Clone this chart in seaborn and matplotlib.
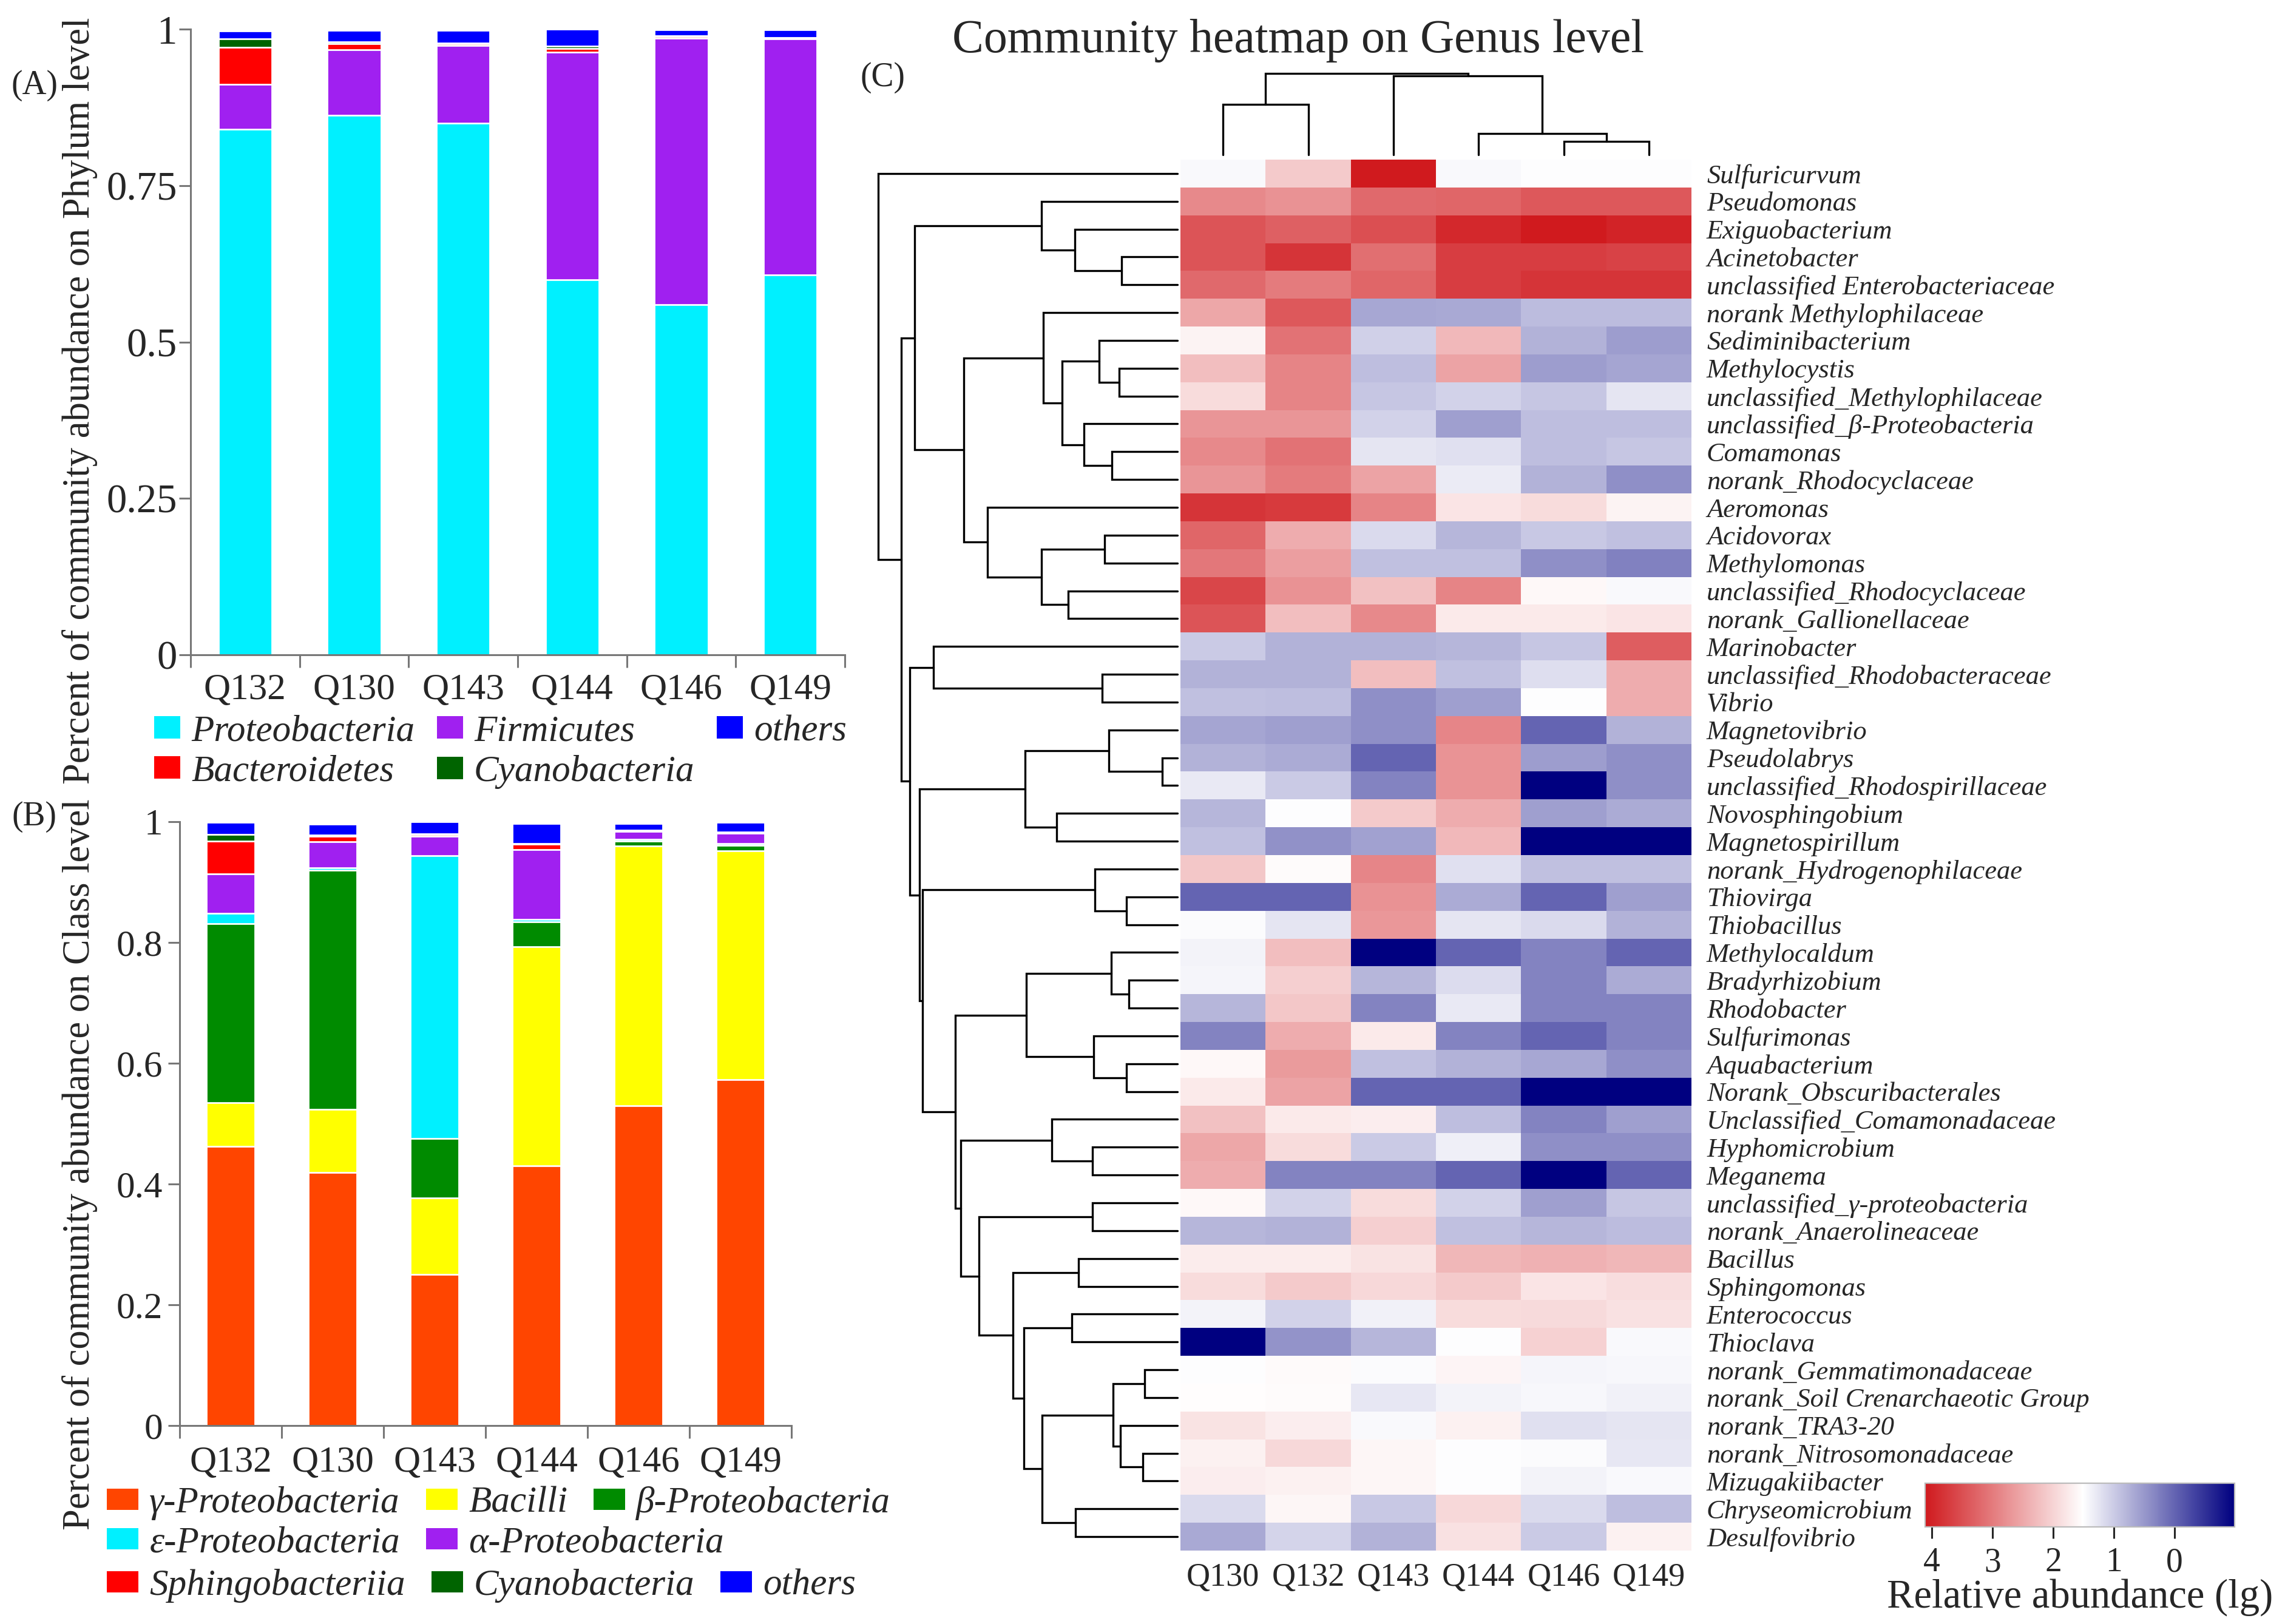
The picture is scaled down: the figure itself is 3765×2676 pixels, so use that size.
import numpy as np  # arrays
import pandas as pd  # tables
import matplotlib.pyplot as plt  # figure layout
import seaborn as sns  # bars and heatmap
from matplotlib.colors import LinearSegmentedColormap
from matplotlib.patches import Patch

sns.set_style('white')
plt.rcParams['font.family'] = ['Liberation Serif', 'DejaVu Serif']

# ---------------- DATA ----------------
bar_samples = ['Q132', 'Q130', 'Q143', 'Q144', 'Q146', 'Q149']

# (A) phylum level
phylum_names = ['Proteobacteria', 'Firmicutes', 'Bacteroidetes', 'Cyanobacteria', 'others']
phylum_colors = ['#00F0FF', '#A020F0', '#FF0000', '#006400', '#0000FF']
proteobacteria = [0.840, 0.862, 0.850, 0.599, 0.560, 0.607]
firmicutes = [0.072, 0.105, 0.124, 0.364, 0.425, 0.377]
bacteroidetes = [0.059, 0.010, 0.003, 0.006, 0.003, 0.001]
cyanobacteria_p = [0.013, 0.003, 0.001, 0.004, 0.001, 0.001]
others_p = [0.013, 0.018, 0.020, 0.027, 0.010, 0.013]

# (B) class level
class_names = ['γ-Proteobacteria', 'Bacilli', 'β-Proteobacteria', 'ε-Proteobacteria',
               'α-Proteobacteria', 'Sphingobacteriia', 'Cyanobacteria', 'others']
class_colors = ['#FF4500', '#FFFF00', '#008B00', '#00F0FF',
                '#A020F0', '#FF0000', '#006400', '#0000FF']
gamma_p = [0.462, 0.419, 0.250, 0.430, 0.530, 0.573]
bacilli = [0.073, 0.105, 0.127, 0.363, 0.430, 0.379]
beta_p = [0.296, 0.396, 0.098, 0.041, 0.008, 0.009]
epsilon_p = [0.017, 0.004, 0.469, 0.004, 0.003, 0.003]
alpha_p = [0.066, 0.043, 0.032, 0.116, 0.013, 0.017]
sphingobacteriia = [0.054, 0.009, 0.003, 0.009, 0.001, 0.001]
cyanobacteria_c = [0.011, 0.002, 0.001, 0.001, 0.001, 0.001]
others_c = [0.020, 0.018, 0.020, 0.033, 0.011, 0.016]

# (C) genus heatmap, lg relative abundance
heat_samples = ['Q130', 'Q132', 'Q143', 'Q144', 'Q146', 'Q149']
genera = ['Sulfuricurvum', 'Pseudomonas', 'Exiguobacterium', 'Acinetobacter',
          'unclassified Enterobacteriaceae', 'norank Methylophilaceae', 'Sediminibacterium',
          'Methylocystis', 'unclassified_Methylophilaceae', 'unclassified_β-Proteobacteria',
          'Comamonas', 'norank_Rhodocyclaceae', 'Aeromonas', 'Acidovorax', 'Methylomonas',
          'unclassified_Rhodocyclaceae', 'norank_Gallionellaceae', 'Marinobacter',
          'unclassified_Rhodobacteraceae', 'Vibrio', 'Magnetovibrio', 'Pseudolabrys',
          'unclassified_Rhodospirillaceae', 'Novosphingobium', 'Magnetospirillum',
          'norank_Hydrogenophilaceae', 'Thiovirga', 'Thiobacillus', 'Methylocaldum',
          'Bradyrhizobium', 'Rhodobacter', 'Sulfurimonas', 'Aquabacterium',
          'Norank_Obscuribacterales', 'Unclassified_Comamonadaceae', 'Hyphomicrobium',
          'Meganema', 'unclassified_γ-proteobacteria', 'norank_Anaerolineaceae', 'Bacillus',
          'Sphingomonas', 'Enterococcus', 'Thioclava', 'norank_Gemmatimonadaceae',
          'norank_Soil Crenarchaeotic Group', 'norank_TRA3-20', 'norank_Nitrosomonadaceae',
          'Mizugakiibacter', 'Chryseomicrobium', 'Desulfovibrio']
heat_values = [
    [1.45, 2.10, 4.10, 1.45, 1.50, 1.50],
    [2.85, 2.75, 3.20, 3.25, 3.40, 3.40],
    [3.45, 3.30, 3.50, 3.95, 4.10, 4.00],
    [3.45, 3.80, 3.15, 3.70, 3.70, 3.65],
    [3.20, 3.00, 3.25, 3.70, 3.80, 3.80],
    [2.50, 3.40, 0.65, 0.68, 0.85, 0.85],
    [1.65, 3.10, 1.05, 2.30, 0.75, 0.55],
    [2.25, 2.90, 0.88, 2.55, 0.55, 0.63],
    [1.90, 2.90, 0.95, 1.08, 0.95, 1.25],
    [2.70, 2.70, 1.08, 0.57, 0.88, 0.88],
    [2.85, 3.10, 1.25, 1.22, 0.88, 0.95],
    [2.70, 3.00, 2.55, 1.32, 0.75, 0.42],
    [3.80, 3.75, 2.90, 1.80, 1.90, 1.65],
    [3.25, 2.45, 1.15, 0.80, 0.98, 0.90],
    [3.05, 2.60, 0.90, 0.90, 0.42, 0.27],
    [3.60, 2.75, 2.20, 2.90, 1.58, 1.45],
    [3.45, 2.25, 2.85, 1.75, 1.75, 1.80],
    [1.00, 0.75, 0.75, 0.80, 0.95, 3.35],
    [0.75, 0.75, 2.25, 0.90, 1.20, 2.45],
    [0.90, 0.88, 0.42, 0.57, 1.50, 2.45],
    [0.63, 0.57, 0.42, 2.88, 0.00, 0.76],
    [0.75, 0.69, 0.00, 2.72, 0.55, 0.42],
    [1.30, 1.00, 0.30, 2.72, -0.99, 0.42],
    [0.80, 1.50, 2.10, 2.45, 0.57, 0.69],
    [0.90, 0.44, 0.60, 2.30, -0.99, -0.99],
    [2.15, 1.55, 2.88, 1.22, 0.90, 0.90],
    [0.00, 0.00, 2.75, 0.70, 0.00, 0.57],
    [1.48, 1.25, 2.68, 1.25, 1.15, 0.76],
    [1.40, 2.25, -0.99, 0.00, 0.30, 0.00],
    [1.42, 2.05, 0.80, 1.18, 0.30, 0.69],
    [0.80, 2.15, 0.30, 1.30, 0.30, 0.30],
    [0.30, 2.45, 1.75, 0.30, 0.00, 0.30],
    [1.58, 2.65, 0.90, 0.75, 0.66, 0.42],
    [1.75, 2.55, 0.00, 0.00, -0.99, -0.99],
    [2.20, 1.75, 1.70, 0.88, 0.30, 0.57],
    [2.50, 1.90, 1.00, 1.35, 0.42, 0.42],
    [2.45, 0.30, 0.30, 0.00, -0.99, 0.00],
    [1.58, 1.08, 1.90, 1.08, 0.57, 0.95],
    [0.80, 0.75, 2.05, 0.90, 0.80, 0.85],
    [1.72, 1.72, 1.82, 2.32, 2.38, 2.32],
    [1.90, 2.10, 1.95, 2.10, 1.80, 1.88],
    [1.40, 1.08, 1.37, 1.90, 1.92, 1.85],
    [-0.99, 0.45, 0.80, 1.50, 2.02, 1.45],
    [1.50, 1.57, 1.48, 1.63, 1.42, 1.44],
    [1.54, 1.56, 1.28, 1.40, 1.44, 1.38],
    [1.82, 1.70, 1.45, 1.67, 1.22, 1.25],
    [1.67, 1.95, 1.60, 1.50, 1.47, 1.28],
    [1.70, 1.67, 1.60, 1.50, 1.40, 1.45],
    [1.15, 1.60, 0.98, 1.95, 1.15, 0.88],
    [0.68, 1.10, 0.75, 1.85, 1.00, 1.67],
]

# row clustering: (left, right, merge height); ints are genus row indices
g45 = (3, 4, 0.92)
g2_5 = (1, (2, g45, 1.69), 2.24)
g7_9 = (6, (7, 8, 0.96), 1.29)
g10_12 = (9, (10, 11, 1.08), 1.54)
g6_12 = (5, (g7_9, g10_12, 1.90), 2.21)
g13_17 = (12, ((13, 14, 1.20), (15, 16, 1.80), 2.24), 3.13)
g2_17 = (g2_5, (g6_12, g13_17, 3.52), 4.33)
g18_20 = (17, (18, 19, 1.24), 4.02)
g21_25 = ((20, (21, 22, 0.25), 1.13), (23, 24, 1.99), 2.51)
g26_28 = (25, (26, 27, 0.84), 1.36)
g29_34 = ((28, (29, 30, 0.80), 1.09), (31, (32, 33, 0.84), 1.38), 2.49)
g35_37 = (34, (35, 36, 1.40), 2.07)
g44_48 = ((43, 44, 0.54), (45, (46, 47, 0.57), 0.94), 1.06)
g42_50 = ((41, 42, 1.74), (g44_48, (48, 49, 1.68), 2.23), 2.53)
g38_50 = ((37, 38, 1.40), ((39, 40, 1.63), g42_50, 2.71), 3.27)
g29_50 = (g29_34, (g35_37, g38_50, 3.57), 3.66)
g18_50 = (g18_20, (g21_25, (g26_28, g29_50, 4.20), 4.25), 4.41)
row_tree = (0, (g2_17, g18_50, 4.55), 4.93)

# column clustering of heatmap samples
col_tree = ((0, 1, 0.83), (2, (3, (4, 5, 0.22), 0.35), 1.30), 1.34)

# ---------------- FIGURE ----------------
W, H = 3765, 2676
fig = plt.figure(figsize=(W / 200, H / 200), dpi=200)


def box(x0, y0, x1, y1):
    # pixel box, origin top-left -> figure fraction rect
    return [x0 / W, 1 - y1 / H, (x1 - x0) / W, (y1 - y0) / H]


def stacked(ax, layers, names, colors, width):
    df = pd.DataFrame(dict(zip(names, layers)), index=bar_samples)
    cum = df.cumsum(axis=1)
    # tallest layer first, each smaller cumulative bar on top of it
    for name, color in reversed(list(zip(names, colors))):
        sns.barplot(x=list(cum.index), y=cum[name].values, color=color, saturation=1,
                    width=width, errorbar=None, ax=ax)


def style_bar_axes(ax, yticks, ylabels, ysize, ypad, xpad):
    ax.set_ylim(0, 1)
    ax.set_xlim(-0.5, 5.5)
    sns.despine(ax=ax)
    for s in ['left', 'bottom']:
        ax.spines[s].set_color('#777777')
        ax.spines[s].set_linewidth(1.1)
    ax.set_yticks(yticks)
    ax.set_yticklabels(ylabels, fontsize=ysize)
    ax.set_xticks(np.arange(-0.5, 6, 1))
    ax.set_xticklabels([''] * 7)
    ax.set_xticks(np.arange(6), minor=True)
    ax.set_xticklabels(bar_samples, minor=True, fontsize=22)
    ax.tick_params(axis='y', which='major', direction='out', length=7, width=1.1,
                   color='#777777', left=True, pad=ypad)
    ax.tick_params(axis='x', which='major', direction='out', length=7.5, width=1.1,
                   color='#777777', bottom=True)
    ax.tick_params(axis='x', which='minor', length=0, pad=xpad)


leg_font = {'family': 'Liberation Serif', 'style': 'italic', 'size': 22}

# (A)
axA = fig.add_axes(box(314, 48, 1392, 1079))
stacked(axA, [proteobacteria, firmicutes, bacteroidetes, cyanobacteria_p, others_p],
        phylum_names, phylum_colors, 0.49)
style_bar_axes(axA, [0, 0.25, 0.5, 0.75, 1], ['0', '0.25', '0.5', '0.75', '1'], 24, 1, 11)
axA.set_ylabel('Percent of community abundance on Phylum level', fontsize=22.5)
axA.yaxis.set_label_coords(-0.142, 0.406)
hA = {n: Patch(facecolor=c, edgecolor='none') for n, c in zip(phylum_names, phylum_colors)}
orderA = ['Proteobacteria', 'Bacteroidetes', 'Firmicutes', 'Cyanobacteria', 'others']
fig.legend([hA[n] for n in orderA], orderA, loc='upper left', ncol=3,
           bbox_to_anchor=(254 / W, 1 - 1178 / H), frameon=False, prop=leg_font,
           borderpad=0, borderaxespad=0, handlelength=0.7, handleheight=0.55,
           handletextpad=0.3, columnspacing=0.6, labelspacing=0.17)

# (B)
axB = fig.add_axes(box(296, 1354, 1304, 2349))
stacked(axB, [gamma_p, bacilli, beta_p, epsilon_p, alpha_p, sphingobacteriia,
              cyanobacteria_c, others_c], class_names, class_colors, 0.48)
style_bar_axes(axB, [0, 0.2, 0.4, 0.6, 0.8, 1], ['0', '0.2', '0.4', '0.6', '0.8', '1'], 22, 3, 12)
axB.set_ylabel('Percent of community abundance on Class level', fontsize=22.5)
axB.yaxis.set_label_coords(-0.134, 0.432)
hB = {n: Patch(facecolor=c, edgecolor='none') for n, c in zip(class_names, class_colors)}
rowsB = [(['γ-Proteobacteria', 'Bacilli', 'β-Proteobacteria'], 2449),
         (['ε-Proteobacteria', 'α-Proteobacteria'], 2515),
         (['Sphingobacteriia', 'Cyanobacteria', 'others'], 2585)]
for names, top in rowsB:
    fig.legend([hB[n] for n in names], names, loc='upper left', ncol=len(names),
               bbox_to_anchor=(176 / W, 1 - top / H), frameon=False, prop=leg_font,
               borderpad=0, borderaxespad=0, handlelength=0.85, handleheight=0.5,
               handletextpad=0.3, columnspacing=0.7)

# (C) heatmap
heat_df = pd.DataFrame(heat_values, index=genera, columns=heat_samples)
cmap = LinearSegmentedColormap.from_list(
    'rwb', [(0.0, '#000080'), (0.49, '#FFFFFF'), (1.0, '#D01A1E')])

axH = fig.add_axes(box(1945, 263, 2787, 2555))
axCB = fig.add_axes(box(3172, 2444, 3682, 2516))
sns.heatmap(heat_df, cmap=cmap, vmin=-0.99, vmax=4.11, ax=axH, cbar_ax=axCB,
            cbar_kws={'orientation': 'horizontal', 'ticks': [4, 3, 2, 1, 0]},
            xticklabels=heat_samples, yticklabels=genera)
axH.yaxis.tick_right()
axH.set_yticklabels(genera, rotation=0, fontsize=16, fontstyle='italic', ha='left')
axH.set_xticklabels(heat_samples, rotation=0, fontsize=19.5)
axH.tick_params(axis='y', length=0, pad=9)
axH.tick_params(axis='x', length=0, pad=7)
axH.set_xlabel('')
axH.set_ylabel('')

cb = axH.collections[0].colorbar
cb.outline.set_edgecolor('#BBBBBB')
cb.outline.set_linewidth(0.8)
axCB.invert_xaxis()
axCB.tick_params(axis='x', direction='out', length=7, width=1.1, pad=5, labelsize=20)
axCB.set_xticks([4, 3, 2, 1, 0])
axCB.set_xticklabels(['4', '3', '2', '1', '0'])
axCB.set_xlabel('Relative abundance (lg)', fontsize=24, labelpad=0)


def tree_segments(node, pos):
    if isinstance(node, int):
        return pos[node], 0.0, []
    a, b, h = node
    pa, ha, sa = tree_segments(a, pos)
    pb, hb, sb_ = tree_segments(b, pos)
    return (pa + pb) / 2, h, sa + sb_ + [[(pa, ha), (pa, h), (pb, h), (pb, hb)]]


# row dendrogram
axRD = fig.add_axes(box(1440, 263, 1945, 2555))
_, _, segs = tree_segments(row_tree, np.arange(len(genera)) + 0.5)
for seg in segs:
    p, hgt = zip(*seg)
    axRD.plot(hgt, p, color='black', lw=1.2, solid_joinstyle='miter')
axRD.set_ylim(len(genera), 0)
axRD.set_xlim(5.0, -0.05)
axRD.axis('off')

# column dendrogram
axCD = fig.add_axes(box(1945, 118, 2787, 263))
_, _, segs = tree_segments(col_tree, np.arange(len(heat_samples)) + 0.5)
for seg in segs:
    p, hgt = zip(*seg)
    axCD.plot(p, hgt, color='black', lw=1.2, solid_joinstyle='miter')
axCD.set_xlim(0, len(heat_samples))
axCD.set_ylim(-0.08, 1.37)
axCD.axis('off')

# panel labels and title
fig.text(57 / W, 1 - 141 / H, '(A)', ha='center', va='center', fontsize=20)
fig.text(57 / W, 1 - 1346 / H, '(B)', ha='center', va='center', fontsize=20)
fig.text(1454 / W, 1 - 128 / H, '(C)', ha='center', va='center', fontsize=20)
fig.text(2139 / W, 1 - 67 / H, 'Community heatmap on Genus level', ha='center',
         va='center', fontsize=28)

plt.savefig('out.png', dpi=200)
